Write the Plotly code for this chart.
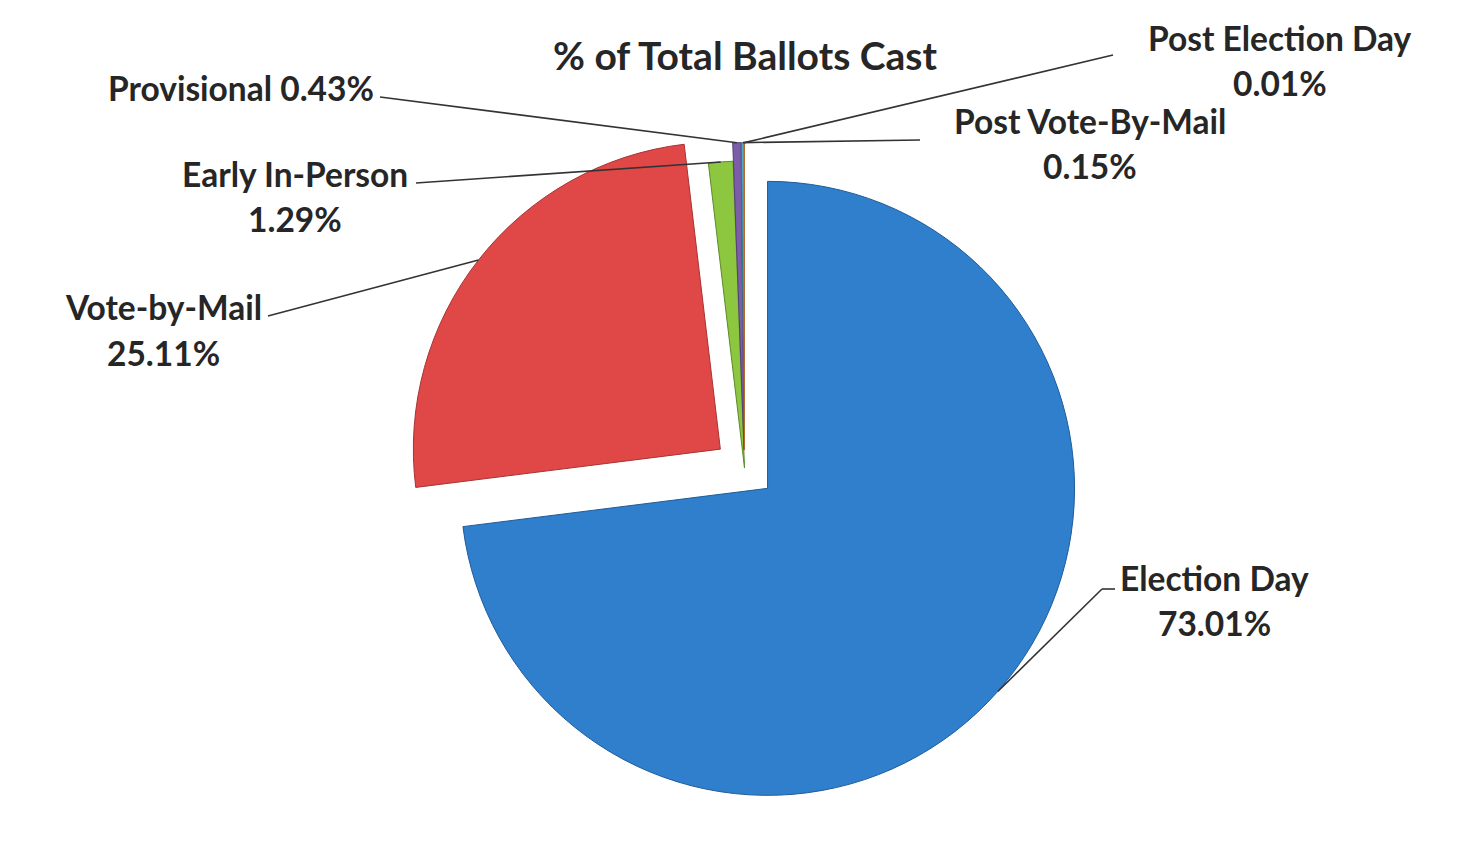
import math
import plotly.graph_objects as go

# Ballot categories and their share of the total (percent)
categories = ["Election Day", "Vote-by-Mail", "Early In-Person", "Provisional",
              "Post Vote-By-Mail", "Post Election Day"]
shares = [73.01, 25.11, 1.29, 0.43, 0.15, 0.01]
pulls = [0.1, 0.1, 0.0, 0.06, 0.06, 0.06]
colors = ["#2F7FCC", "#E04848", "#8DC63F", "#7B5EA7", "#4BACC6", "#F79646"]
edges = ["#1F5C99", "#A83232", "#5E8A2A", "#55407A", "#34798B", "#B06A30"]

W, H = 1479, 853
dom_x = [0.2, 0.8068]
dom_y = [0.0554, 0.8472]

# Label text: centre of name line, centre of value line
label_pos = {
    "Election Day": ((1214, 578), (1214, 623)),
    "Vote-by-Mail": ((163, 307), (163, 353)),
    "Early In-Person": ((295, 174), (295, 219)),
    "Post Vote-By-Mail": ((1090, 121), (1090, 166)),
    "Post Election Day": ((1279, 38), (1280, 83)),
}
# Leader line start points beside each label
leader_start = {
    "Election Day": [(1115, 589), (1102, 589)],
    "Vote-by-Mail": [(268, 316)],
    "Early In-Person": [(416, 183)],
    "Provisional": [(380, 97)],
    "Post Vote-By-Mail": [(920, 140)],
    "Post Election Day": [(1113, 55)],
}

# Pie geometry as laid out by plotly (no margins)
box_w = W * (dom_x[1] - dom_x[0])
box_h = H * (dom_y[1] - dom_y[0])
r = min(box_w, box_h) / 2 / (1 + max(pulls))
cx = W * (dom_x[0] + dom_x[1]) / 2
cy = H * (1 - dom_y[0]) - box_h / 2

total = sum(shares)
anchors = {}
start = 0.0
for name, v, p in zip(categories, shares, pulls):
    span = 360.0 * v / total
    mid = math.radians(start + span / 2)
    ox = cx + p * r * math.sin(mid)
    oy = cy - p * r * math.cos(mid)
    anchors[name] = (ox + r * math.sin(mid), oy - r * math.cos(mid))
    start += span


def px(x, y):
    return x / W, 1 - y / H


fig = go.Figure(go.Pie(
    labels=categories,
    values=shares,
    pull=pulls,
    sort=False,
    direction="clockwise",
    rotation=0,
    textinfo="none",
    hoverinfo="label+percent",
    marker=dict(colors=colors, line=dict(color=edges, width=1)),
    domain=dict(x=dom_x, y=dom_y),
    showlegend=False,
))

shapes = []
for name, pts in leader_start.items():
    path_pts = pts + [anchors[name]]
    for (x0, y0), (x1, y1) in zip(path_pts[:-1], path_pts[1:]):
        a0 = px(x0, y0)
        a1 = px(x1, y1)
        shapes.append(dict(type="line", xref="paper", yref="paper",
                           x0=a0[0], y0=a0[1], x1=a1[0], y1=a1[1],
                           line=dict(color="#333333", width=1.6)))

font = dict(family="Lato", size=33.5, color="#262626", weight="bold")
annotations = []
for name, v in zip(categories, shares):
    if name == "Provisional":
        x, y = px(241, 88)
        annotations.append(dict(text=f"{name} {v:.2f}%", x=x, y=y,
                                xref="paper", yref="paper", showarrow=False,
                                xanchor="center", yanchor="middle", font=font))
        continue
    (nx, ny), (vx, vy) = label_pos[name]
    for text, (tx, ty) in ((name, (nx, ny)), (f"{v:.2f}%", (vx, vy))):
        x, y = px(tx, ty)
        annotations.append(dict(text=text, x=x, y=y, xref="paper", yref="paper",
                                showarrow=False, xanchor="center", yanchor="middle",
                                font=font))

tx, ty = px(745, 55)
annotations.append(dict(text="% of Total Ballots Cast", x=tx, y=ty,
                        xref="paper", yref="paper", showarrow=False,
                        xanchor="center", yanchor="middle",
                        font=dict(family="Lato", size=39, color="#262626", weight="bold")))

fig.update_layout(
    width=W, height=H,
    margin=dict(l=0, r=0, t=0, b=0),
    paper_bgcolor="white",
    plot_bgcolor="white",
    shapes=shapes,
    annotations=annotations,
)

fig.write_html("out.html")
